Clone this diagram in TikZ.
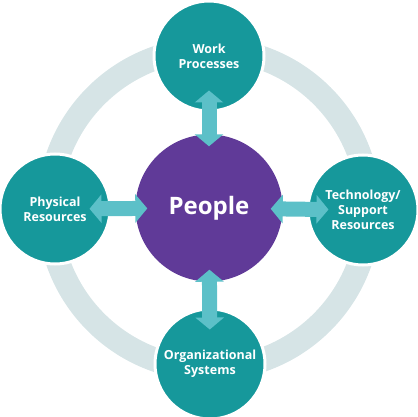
\documentclass[tikz,border=0pt]{standalone}
\usepackage{fontspec}
\setmainfont{Open Sans}
\usepackage{xcolor}
\usetikzlibrary{arrows.meta}

\definecolor{tealc}{RGB}{22,152,155}
\definecolor{purplec}{RGB}{96,58,152}
\definecolor{arrowc}{RGB}{92,192,200}
\definecolor{ringc}{RGB}{214,228,230}

\begin{document}
\begin{tikzpicture}[x=1pt, y=-1pt,
    outer/.style={circle, fill=tealc, draw=white, line width=3pt, minimum size=110pt,
        inner sep=0pt, text=white, font=\fontsize{12.5}{15}\selectfont\bfseries, align=center},
    core/.style={circle, fill=purplec, minimum size=147pt, inner sep=0pt,
        text=white, font=\fontsize{24}{28}\selectfont\bfseries},
    link/.style={arrowc, line width=15pt,
        {Triangle[width=28pt, length=12pt]}-{Triangle[width=28pt, length=12pt]},
        shorten <=-12pt, shorten >=-22pt}]
    \useasboundingbox (0,0) rectangle (417,417);

    % Background ring
    \draw[ringc, line width=24pt] (209,209) circle (160);

    % Centre
    \node[core] (people) at (209,208) {People};

    % Surrounding circles
    \node[outer] (work) at (209,56) {Work\\Processes};
    \node[outer] (phys) at (55,209) {Physical\\Resources};
    \node[outer] (tech) at (363,210) {Technology/\\Support\\Resources};
    \node[outer] (org) at (210,364) {Organizational\\Systems};

    % Connecting arrows
    \draw[link] (people) -- (work);
    \draw[link] (people) -- (phys);
    \draw[link] (people) -- (tech);
    \draw[link] (people) -- (org);
\end{tikzpicture}
\end{document}
